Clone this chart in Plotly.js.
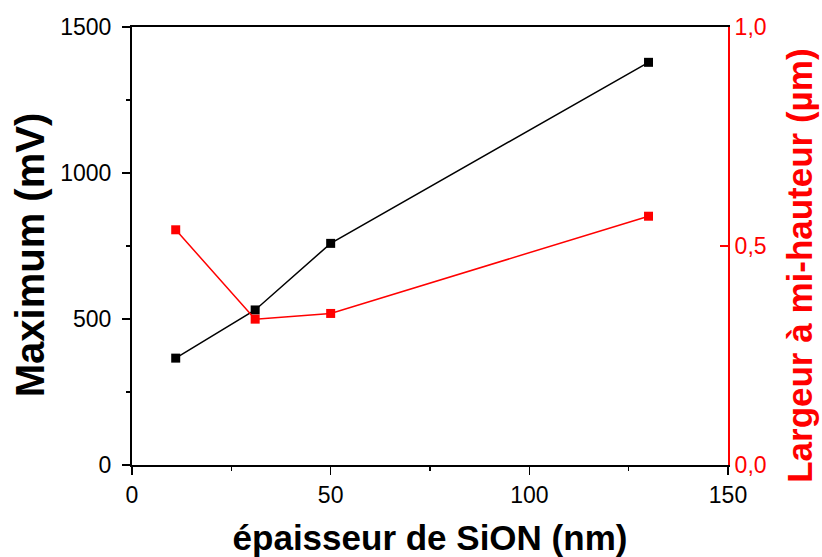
<!DOCTYPE html>
<html>
<head>
<meta charset="utf-8">
<script src="https://cdn.plot.ly/plotly-3.0.1.min.js"></script>
<style>html,body{margin:0;padding:0;background:#fff;}#chart{width:822px;height:557px;}</style>
</head>
<body>
<div id="chart"></div>
<script>
const thickness = [11, 31, 50, 130];
const maximumMV = [366, 531, 759, 1379];
const fwhmUm = [0.537, 0.333, 0.346, 0.568];
const rightTickVals = [0, 0.5, 1.0];
const rightTickText = ['0,0', '0,5', '1,0'];
const leftTitle = 'Maximum (mV)';
const rightTitle = 'Largeur à mi-hauteur (µm)';
const xTitle = 'épaisseur de SiON (nm)';

const font = 'Liberation Sans, Arial, sans-serif';

const traces = [
  {x: thickness, y: maximumMV, type: 'scatter', mode: 'lines+markers',
   line: {color: '#000', width: 1.5}, marker: {symbol: 'square', size: 9, color: '#000'},
   yaxis: 'y', showlegend: false},
  {x: thickness, y: fwhmUm, type: 'scatter', mode: 'lines+markers',
   line: {color: '#ff0000', width: 1.5}, marker: {symbol: 'square', size: 9, color: '#ff0000'},
   yaxis: 'y2', showlegend: false}
];

const layout = {
  width: 822, height: 557,
  margin: {l: 132, r: 94, t: 27, b: 92},
  paper_bgcolor: '#fff', plot_bgcolor: '#fff',
  font: {family: font, color: '#000'},
  xaxis: {
    range: [0, 150], dtick: 50, tick0: 0,
    showgrid: false, zeroline: false,
    showline: true, linecolor: '#000', linewidth: 2, mirror: true,
    ticks: 'outside', ticklen: 8, tickwidth: 1.5, tickcolor: '#000',
    minor: {dtick: 25, ticks: 'outside', ticklen: 4, tickwidth: 1.5, tickcolor: '#000'},
    tickfont: {size: 23, family: font, color: '#000'},
    title: {text: '<b>' + xTitle + '</b>', font: {size: 35, family: font, color: '#000'}, standoff: 20}
  },
  yaxis: {
    range: [0, 1500], dtick: 500, tick0: 0,
    showgrid: false, zeroline: false,
    showline: true, linecolor: '#000', linewidth: 2,
    ticks: 'outside', ticklen: 8, tickwidth: 1.5, tickcolor: '#000',
    ticklabelstandoff: 6,
    minor: {dtick: 250, ticks: 'outside', ticklen: 4, tickwidth: 1.5, tickcolor: '#000'},
    tickfont: {size: 23, family: font, color: '#000'}
  },
  yaxis2: {
    overlaying: 'y', side: 'right', anchor: 'x',
    range: [0, 1.0], tickvals: rightTickVals, ticktext: rightTickText,
    showgrid: false, zeroline: false,
    showline: true, linecolor: '#ff0000', linewidth: 2,
    ticks: 'inside', ticklen: 8, tickwidth: 1.5, tickcolor: '#ff0000',
    tickfont: {size: 23, family: font, color: '#ff0000'}
  },
  annotations: [
    {text: '<b>' + leftTitle + '</b>', xref: 'paper', yref: 'paper', x: -0.171, y: 0.479,
     xanchor: 'center', yanchor: 'middle', textangle: -90, showarrow: false,
     font: {size: 40, family: font, color: '#000'}},
    {text: '<b>' + rightTitle + '</b>', xref: 'paper', yref: 'paper', x: 1.121, y: 0.455,
     xanchor: 'center', yanchor: 'middle', textangle: -90, showarrow: false,
     font: {size: 35, family: font, color: '#ff0000'}}
  ]
};

Plotly.newPlot('chart', traces, layout, {displayModeBar: false, staticPlot: true});
</script>
</body>
</html>
